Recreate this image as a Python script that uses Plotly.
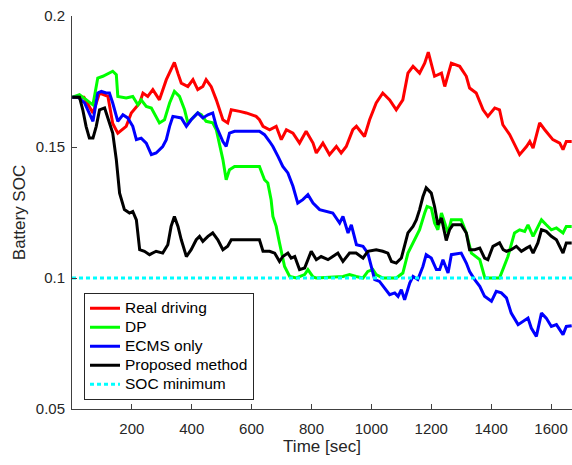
import plotly.graph_objects as go

# (time [s], SOC) pairs
real_driving = [(1,0.169),(40,0.169),(70,0.163),(92,0.1706),(120,0.1693),(136,0.159),(153,0.1553),(181,0.1579),(198,0.163),(226,0.1668),(237,0.1706),(253,0.1693),(270,0.1719),(292,0.168),(315,0.1757),(331,0.1795),(342,0.1823),(354,0.178),(365,0.1744),(387,0.1731),(404,0.1757),(420,0.1719),(437,0.1731),(448,0.1757),(465,0.173),(482,0.168),(504,0.1604),(520,0.1592),(532,0.1642),(560,0.1636),(582,0.163),(615,0.1617),(626,0.1604),(638,0.1579),(660,0.1566),(682,0.1579),(699,0.1528),(716,0.1566),(738,0.1553),(760,0.1515),(782,0.156),(805,0.1515),(816,0.1477),(838,0.1515),(860,0.1471),(883,0.1502),(899,0.1477),(916,0.1502),(938,0.1566),(950,0.1579),(977,0.154),(994,0.1604),(1016,0.1668),(1038,0.1706),(1061,0.168),(1083,0.1642),(1105,0.168),(1122,0.1782),(1139,0.1808),(1161,0.1782),(1178,0.182),(1190,0.1862),(1211,0.177),(1234,0.1782),(1245,0.1731),(1267,0.182),(1295,0.1808),(1317,0.177),(1328,0.1725),(1350,0.1706),(1373,0.1642),(1389,0.1617),(1412,0.1649),(1428,0.1642),(1439,0.1585),(1462,0.1547),(1495,0.1471),(1518,0.1502),(1529,0.1521),(1540,0.1496),(1562,0.1592),(1579,0.1566),(1606,0.1528),(1629,0.1515),(1640,0.149),(1651,0.1521),(1669,0.1521)]

dp = [(1,0.169),(25,0.17),(70,0.1661),(81,0.1731),(86,0.1763),(103,0.177),(125,0.1782),(136,0.1789),(148,0.1776),(153,0.1693),(181,0.1687),(203,0.1693),(220,0.1661),(231,0.168),(248,0.1655),(265,0.1649),(292,0.1592),(309,0.1604),(326,0.1668),(342,0.1712),(359,0.1693),(376,0.1642),(387,0.1592),(404,0.1611),(420,0.163),(432,0.1623),(448,0.1598),(470,0.1592),(482,0.1566),(504,0.1452),(515,0.1375),(526,0.1413),(543,0.1426),(626,0.1426),(643,0.1375),(654,0.1363),(665,0.1299),(671,0.1235),(682,0.1197),(693,0.1134),(710,0.1044),(727,0.1006),(749,0.1),(777,0.1013),(788,0.1032),(805,0.1004),(816,0.1),(905,0.1006),(927,0.1013),(949,0.1006),(972,0.1),(988,0.1025),(1005,0.1032),(1016,0.1013),(1038,0.1),(1083,0.1),(1105,0.1019),(1122,0.1095),(1139,0.1134),(1150,0.1159),(1161,0.1184),(1178,0.1248),(1186,0.1273),(1200,0.1267),(1211,0.121),(1222,0.1184),(1234,0.1248),(1245,0.121),(1256,0.1172),(1267,0.1222),(1300,0.1222),(1317,0.1172),(1334,0.1095),(1362,0.107),(1379,0.1),(1428,0.1),(1456,0.1082),(1478,0.1172),(1495,0.1184),(1512,0.1178),(1523,0.1203),(1540,0.1159),(1556,0.1197),(1568,0.1222),(1584,0.1203),(1601,0.1184),(1618,0.1191),(1640,0.1172),(1651,0.1197),(1669,0.1197)]

ecms_only = [(1,0.169),(20,0.169),(42,0.1668),(70,0.1598),(86,0.1706),(98,0.1712),(114,0.1706),(125,0.1706),(136,0.1668),(153,0.1598),(170,0.1623),(186,0.1611),(203,0.1579),(215,0.1528),(231,0.1534),(248,0.1515),(265,0.1471),(281,0.1477),(303,0.1502),(315,0.1528),(326,0.1579),(337,0.1617),(365,0.1611),(382,0.1579),(398,0.1604),(420,0.163),(437,0.1611),(454,0.1623),(470,0.163),(482,0.1579),(504,0.1521),(515,0.1502),(526,0.1553),(543,0.156),(626,0.156),(643,0.1547),(660,0.1521),(671,0.1502),(688,0.1464),(704,0.1426),(721,0.1401),(738,0.135),(754,0.1286),(771,0.1299),(788,0.1318),(805,0.1286),(827,0.1261),(849,0.1254),(871,0.1248),(894,0.121),(905,0.1235),(922,0.1172),(933,0.1203),(950,0.1127),(972,0.1121),(988,0.1095),(1011,0.0994),(1027,0.0987),(1044,0.0962),(1061,0.0936),(1078,0.0943),(1089,0.093),(1100,0.0955),(1111,0.0917),(1128,0.0981),(1139,0.1006),(1155,0.0994),(1172,0.1044),(1183,0.1089),(1200,0.1076),(1217,0.1032),(1228,0.1032),(1239,0.107),(1256,0.1019),(1267,0.1089),(1300,0.1095),(1317,0.1057),(1328,0.1025),(1345,0.0994),(1362,0.0968),(1378,0.093),(1401,0.0911),(1417,0.0949),(1434,0.0943),(1451,0.0924),(1467,0.0866),(1490,0.0822),(1506,0.0834),(1523,0.0847),(1534,0.0809),(1551,0.0777),(1568,0.0866),(1584,0.0847),(1601,0.0815),(1618,0.0822),(1640,0.0784),(1651,0.0815),(1669,0.0818)]

proposed = [(1,0.169),(25,0.169),(36,0.1642),(47,0.1579),(58,0.1534),(70,0.1534),(81,0.1579),(92,0.1642),(109,0.1649),(120,0.1611),(136,0.1553),(148,0.1452),(159,0.1324),(175,0.1261),(192,0.1248),(203,0.1254),(215,0.1222),(226,0.1108),(242,0.1102),(259,0.1089),(281,0.1102),(303,0.1095),(320,0.1127),(331,0.1197),(342,0.1235),(354,0.1197),(365,0.1146),(382,0.1082),(398,0.1108),(415,0.1146),(426,0.1159),(437,0.114),(454,0.1159),(470,0.1172),(487,0.1146),(504,0.1108),(520,0.1121),(532,0.1146),(626,0.1146),(638,0.1102),(660,0.1102),(677,0.1095),(693,0.1063),(704,0.1082),(721,0.1095),(732,0.1076),(744,0.1082),(760,0.1032),(777,0.1038),(799,0.1102),(816,0.107),(832,0.1082),(855,0.107),(871,0.1082),(888,0.1095),(905,0.1063),(927,0.1095),(949,0.1095),(972,0.1076),(988,0.1102),(1016,0.1108),(1038,0.1102),(1055,0.1095),(1067,0.1063),(1083,0.1057),(1100,0.1076),(1111,0.1121),(1122,0.1172),(1139,0.1197),(1150,0.1222),(1161,0.1261),(1172,0.131),(1183,0.1344),(1200,0.1324),(1211,0.1273),(1222,0.1203),(1234,0.1229),(1250,0.1143),(1261,0.1184),(1272,0.1203),(1300,0.1203),(1317,0.1172),(1328,0.1108),(1345,0.1108),(1362,0.1114),(1378,0.1076),(1389,0.107),(1406,0.1121),(1428,0.1134),(1440,0.1108),(1451,0.1102),(1467,0.1108),(1484,0.1121),(1501,0.1102),(1518,0.1114),(1529,0.1121),(1540,0.1095),(1556,0.1134),(1568,0.1184),(1584,0.1178),(1601,0.1159),(1618,0.1146),(1640,0.1095),(1651,0.1134),(1669,0.1134)]

soc_minimum = 0.1
time_range = [0, 1670]
soc_range = [0.05, 0.2]
x_ticks = [200, 400, 600, 800, 1000, 1200, 1400, 1600]
y_ticks = [0.05, 0.1, 0.15, 0.2]
y_tick_labels = ["0.05", "0.1", "0.15", "0.2"]

series = [
    ("Real driving", real_driving, "#FF0000"),
    ("DP", dp, "#00FF00"),
    ("ECMS only", ecms_only, "#0000FF"),
    ("Proposed method", proposed, "#000000"),
]

FONT = "Liberation Sans, Arial, Helvetica, sans-serif"


def legend_label(text):
    # larger glyphs while keeping the compact legend row spacing
    return '<span style="font-size:15.5px">' + text + '</span>'


fig = go.Figure()
for name, pts, color in series:
    fig.add_trace(go.Scatter(
        x=[p[0] for p in pts], y=[p[1] for p in pts], mode="lines",
        name=legend_label(name), line=dict(color=color, width=3)))
fig.add_trace(go.Scatter(
    x=time_range, y=[soc_minimum, soc_minimum], mode="lines",
    name=legend_label("SOC minimum"),
    line=dict(color="#00FFFF", width=3, dash="4px,3px")))

axis_common = dict(showgrid=False, zeroline=False, showline=True, linecolor="#404040",
                   linewidth=1, ticks="inside", ticklen=5, tickcolor="#404040",
                   tickfont=dict(family=FONT, size=15, color="#262626"),
                   mirror=False)
fig.update_xaxes(range=time_range, tickvals=x_ticks, **axis_common,
                 title=dict(text="Time [sec]", font=dict(family=FONT, size=17, color="#262626"), standoff=1),
                 ticklabelstandoff=6)
fig.update_yaxes(range=soc_range, tickvals=y_ticks, ticktext=y_tick_labels, **axis_common,
                 title=dict(text="Battery SOC", font=dict(family=FONT, size=17, color="#262626"), standoff=5),
                 ticklabelstandoff=3)

fig.update_layout(
    width=572, height=465, autosize=False,
    margin=dict(l=72, r=0, t=16, b=56, pad=0),
    paper_bgcolor="white", plot_bgcolor="white",
    font=dict(family=FONT, color="#000000"),
    legend=dict(x=0.024, y=0.296, xanchor="left", yanchor="top",
                bordercolor="#262626", borderwidth=1, bgcolor="white",
                font=dict(family=FONT, size=12, color="#000000"),
                tracegroupgap=0, itemwidth=30),
    showlegend=True,
)
fig.write_html("out.html", config={"displayModeBar": False},
               post_script="document.body.style.margin='0';document.body.style.overflow='hidden';")
